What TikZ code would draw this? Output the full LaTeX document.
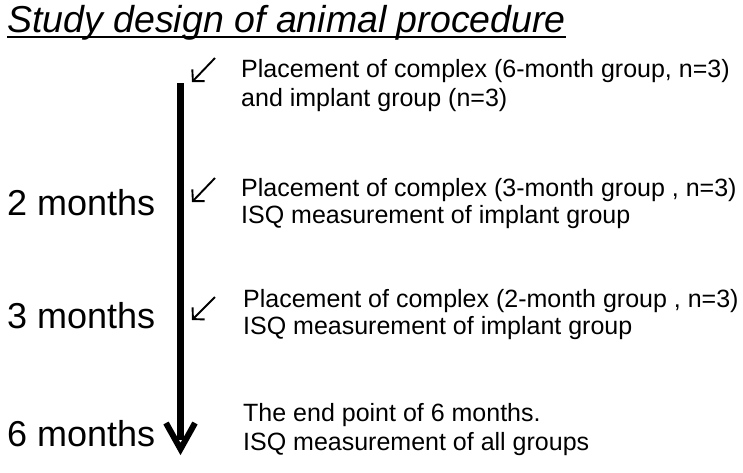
\documentclass[tikz,border=0pt]{standalone}
\usepackage{fontspec}
\setmainfont{Liberation Sans}
\usetikzlibrary{arrows.meta}
\begin{document}
\begin{tikzpicture}[x=1pt,y=-1pt,
  desc/.style={anchor=base west,inner sep=0pt,font=\fontsize{25}{29}\selectfont},
  tlabel/.style={anchor=base west,inner sep=0pt,font=\fontsize{36}{40}\selectfont},
  mark arrow/.style={line width=1.9pt,-{Straight Barb[length=8pt,width=17pt,line width=1.9pt]}}]
\useasboundingbox (0,0) rectangle (743,472);
% title
\node[anchor=base west,inner sep=0pt,font=\fontsize{37.5}{40}\selectfont\itshape] (title) at (7,32) {Study design of animal procedure};
\draw[line width=2pt] ([yshift=-5pt]title.base west) -- ([yshift=-5pt]title.base east);
% timeline
\coordinate (top) at (180.5,83);
\coordinate (tip) at (180.5,449);
\draw[line width=7pt] (top) -- (180.5,440);
\draw[line width=6pt,line join=miter,miter limit=10] (166,423) -- (tip) -- (195,423);
% labels
\node[tlabel] (l2) at (7,215) {2 months};
\node[tlabel] (l3) at (7,328) {3 months};
\node[tlabel] (l6) at (7,446) {6 months};
% descriptions
\node[desc] (d1a) at (241,77) {Placement of complex (6-month group, n=3)};
\node[desc] (d1b) at (241,106) {and implant group (n=3)};
\node[desc] (d2a) at (241,196) {Placement of complex (3-month group , n=3)};
\node[desc] (d2b) at (241,223) {ISQ measurement of implant group};
\node[desc] (d3a) at (243,307) {Placement of complex (2-month group , n=3)};
\node[desc] (d3b) at (243,334) {ISQ measurement of implant group};
\node[desc] (d4a) at (243,421) {The end point of 6 months.};
\node[desc] (d4b) at (243,450) {ISQ measurement of all groups};
% small arrows
\coordinate (s1) at (215,58); \coordinate (e1) at (192,82);
\coordinate (s2) at (215,178); \coordinate (e2) at (192,202);
\coordinate (s3) at (215,297); \coordinate (e3) at (192,320);
\draw[mark arrow] (s1) -- (e1);
\draw[mark arrow] (s2) -- (e2);
\draw[mark arrow] (s3) -- (e3);
\end{tikzpicture}
\end{document}
